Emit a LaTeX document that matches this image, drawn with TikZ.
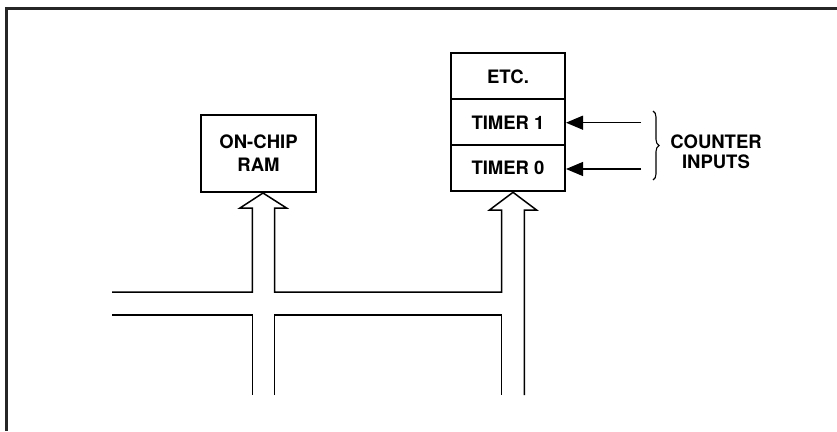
\documentclass[tikz,border=0pt]{standalone}
\usepackage{fontspec}
\setmainfont{TeX Gyre Heros}
\usetikzlibrary{arrows.meta,decorations.pathreplacing,calc}
\begin{document}
\begin{tikzpicture}[x=1pt,y=-1pt,
  box/.style={draw,line width=2pt,inner sep=0pt,align=center,
    font=\bfseries\fontsize{18.5}{23}\selectfont},
  bus/.style={line width=1.5pt,line join=miter},
  frame/.style={line width=3pt,draw=black!85},
  inarrow/.style={line width=1.2pt,-{Triangle[length=17pt,width=14pt]}},
  lbl/.style={align=center,inner sep=0pt,font=\bfseries\fontsize{18.5}{20}\selectfont}]
\useasboundingbox (0,0) rectangle (837,431);
% frame
\draw[frame] (837,8) -- (6,8) -- (6,431);
% boxes
\node[box,minimum width=115pt,minimum height=77pt] (ram) at (258.5,153.5) {ON-CHIP\\RAM};
\node[box,minimum width=114pt,minimum height=46pt] (etc) at (508,76.3) {ETC.};
\node[box,minimum width=114pt,minimum height=46pt] (t1) at (508,122.3) {TIMER 1};
\node[box,minimum width=114pt,minimum height=46pt] (t0) at (508,168.3) {TIMER 0};
% tips of hollow arrows
\coordinate (ramtip) at ($(ram.south)+(4.5,0)$);
\coordinate (ttip) at ($(t0.south)+(5,0)$);
% bus and hollow arrows
\draw[bus] (112,292) -- (252.3,292) -- (252.3,208) -- (240,208) -- (ramtip)
  -- (286.5,208) -- (274.7,208) -- (274.7,292) -- (501.7,292) -- (501.7,210)
  -- (489.5,210) -- (ttip) -- (536.5,210) -- (524.3,210) -- (524.3,395);
\draw[bus] (112,315) -- (252.3,315) -- (252.3,395);
\draw[bus] (274.7,395) -- (274.7,315) -- (501.7,315) -- (501.7,395);
% counter inputs
\coordinate (c1) at (641,122.7);
\coordinate (c0) at (641,169);
\draw[inarrow] (c1) -- (t1.east |- c1);
\draw[inarrow] (c0) -- (t0.east |- c0);
\coordinate (btop) at (653,111);
\coordinate (bbot) at (653,180);
\draw[line width=1.1pt,decorate,decoration={brace,amplitude=6pt}] (btop) -- (bbot);
\node[lbl] (ci) at (716,151.5) {COUNTER\\INPUTS};
\end{tikzpicture}
\end{document}
